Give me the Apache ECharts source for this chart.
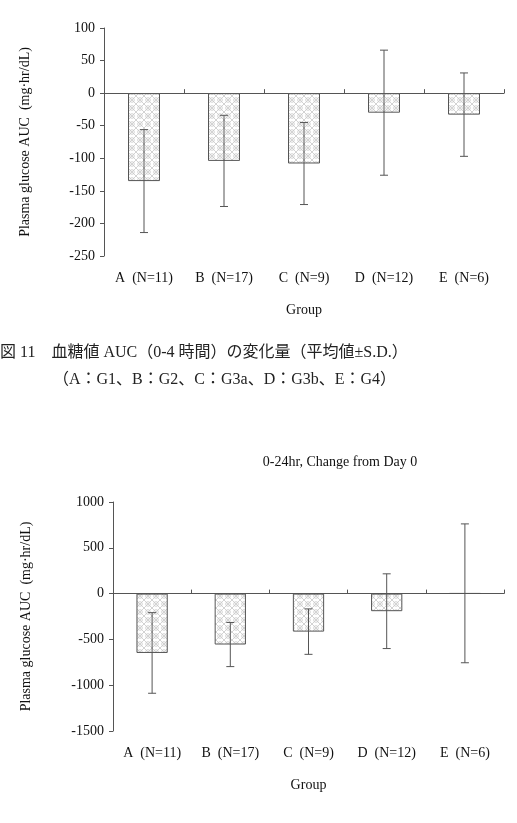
<!DOCTYPE html>
<html>
<head>
<meta charset="utf-8">
<script src="https://cdn.jsdelivr.net/npm/echarts@6/dist/echarts.min.js"></script>
<style>
  html, body { margin: 0; padding: 0; background: #fff; }
  #chart { width: 517px; height: 823px; }
</style>
</head>
<body>
<div id="chart"></div>
<script>
// categories (same for both panels)
const groups = ['A  (N=11)', 'B  (N=17)', 'C  (N=9)', 'D  (N=12)', 'E  (N=6)'];
// 0-4hr panel, mean and S.D.
const mean4h = [-135, -104, -108, -30, -33];
const sd4h = [79, 70, 63, 96, 64];
// 0-24hr panel
const mean24h = [-648, -556, -415, -192, 3];
const sd24h = [440, 241, 248, 408, 758];
// y ticks
const yTop = { min: -250, max: 100, step: 50 };
const yBottom = { min: -1500, max: 1000, step: 500 };

const serif = '"Liberation Serif", "Noto Sans CJK JP", serif';

// hatch pattern tile for the bars
function makeTile() {
  const c = document.createElement('canvas');
  c.width = 8; c.height = 8;
  const g = c.getContext('2d');
  g.fillStyle = '#fff';
  g.fillRect(0, 0, 8, 8);
  g.strokeStyle = '#c8c8c8';
  g.lineWidth = 0.8;
  g.beginPath();
  g.moveTo(0, 0); g.lineTo(8, 8);
  g.moveTo(8, 0); g.lineTo(0, 8);
  g.stroke();
  g.beginPath();
  g.arc(4, 4, 2.3, 0, Math.PI * 2);
  g.stroke();
  return c;
}
const tile = makeTile();

function errData(mean, sd) {
  return mean.map((m, i) => [i, m - sd[i], m + sd[i]]);
}

function renderErr(params, api) {
  const i = api.value(0);
  const lo = api.coord([i, api.value(1)]);
  const hi = api.coord([i, api.value(2)]);
  const cap = 4;
  const st = { stroke: '#555', lineWidth: 1 };
  return {
    type: 'group',
    children: [
      { type: 'line', shape: { x1: lo[0], y1: lo[1], x2: hi[0], y2: hi[1] }, style: st },
      { type: 'line', shape: { x1: lo[0] - cap, y1: lo[1], x2: lo[0] + cap, y2: lo[1] }, style: st },
      { type: 'line', shape: { x1: hi[0] - cap, y1: hi[1], x2: hi[0] + cap, y2: hi[1] }, style: st }
    ]
  };
}

function labelAxis(gi) {
  return {
    type: 'category', gridIndex: gi, data: groups, position: 'bottom',
    axisLine: { show: false, onZero: false },
    axisTick: { show: false },
    axisLabel: { color: '#111', fontFamily: serif, fontSize: 14, margin: 15 },
    name: 'Group', nameLocation: 'middle', nameGap: 47,
    nameTextStyle: { color: '#111', fontFamily: serif, fontSize: 14 }
  };
}
function zeroAxis(gi) {
  return {
    type: 'category', gridIndex: gi, data: groups, position: 'bottom',
    axisLine: { show: true, onZero: true, lineStyle: { color: '#555', width: 1 } },
    axisTick: { show: true, inside: true, length: 4, lineStyle: { color: '#555' } },
    axisLabel: { show: false }
  };
}
function valAxis(gi, r, gap) {
  return {
    type: 'value', gridIndex: gi, min: r.min, max: r.max, interval: r.step,
    axisLine: { show: true, lineStyle: { color: '#555', width: 1 } },
    axisTick: { show: true, length: 4, lineStyle: { color: '#555' } },
    axisLabel: { color: '#111', fontFamily: serif, fontSize: 14, margin: 9,
      formatter: function (v) { return String(v); } },
    splitLine: { show: false },
    name: 'Plasma glucose AUC  (mg·hr/dL)', nameLocation: 'middle', nameGap: gap,
    nameTextStyle: { color: '#111', fontFamily: serif, fontSize: 14 }
  };
}

const barStyle = {
  color: { image: tile, repeat: 'repeat' },
  borderColor: '#555', borderWidth: 1
};

let myChart = echarts.init(document.getElementById('chart'));
let option = {
  animation: false,
  backgroundColor: '#fff',
  grid: [
    { left: 104, right: 13, top: 28, height: 228, outerBoundsMode: 'none' },
    { left: 113, right: 13, top: 502, height: 229, outerBoundsMode: 'none' }
  ],
  xAxis: [labelAxis(0), zeroAxis(0), labelAxis(1), zeroAxis(1)],
  yAxis: [valAxis(0, yTop, 72), valAxis(1, yBottom, 80)],
  graphic: [
    { type: 'text', left: 0, top: 345,
      style: { text: '図 11　血糖値 AUC（0-4 時間）の変化量（平均値±S.D.）', fill: '#222', font: '16px ' + serif } },
    { type: 'text', left: 53, top: 372,
      style: { text: '（A：G1、B：G2、C：G3a、D：G3b、E：G4）', fill: '#222', font: '16px ' + serif } },
    { type: 'text', x: 340, y: 462,
      style: { text: '0-24hr, Change from Day 0', fill: '#111', font: '14px ' + serif, align: 'center', verticalAlign: 'middle' } }
  ],
  series: [
    { type: 'bar', xAxisIndex: 0, yAxisIndex: 0, data: mean4h, barWidth: '40%', itemStyle: barStyle },
    { type: 'custom', xAxisIndex: 0, yAxisIndex: 0, data: errData(mean4h, sd4h), renderItem: renderErr, z: 5 },
    { type: 'bar', xAxisIndex: 2, yAxisIndex: 1, data: mean24h, barWidth: '40%', itemStyle: barStyle },
    { type: 'custom', xAxisIndex: 2, yAxisIndex: 1, data: errData(mean24h, sd24h), renderItem: renderErr, z: 5 }
  ]
};
myChart.setOption(option);
window.addEventListener('resize', function () { myChart.resize(); });
</script>
</body>
</html>
